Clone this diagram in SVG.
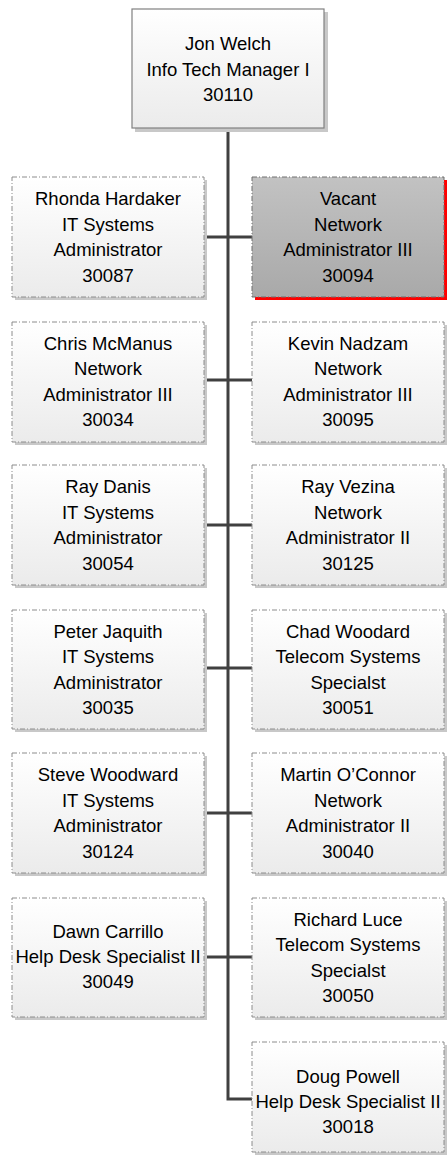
<svg xmlns="http://www.w3.org/2000/svg" width="447" height="1162" viewBox="0 0 447 1162">
<defs>
<linearGradient id="g" x1="0" y1="0" x2="0" y2="1">
<stop offset="0" stop-color="#ffffff"/>
<stop offset="1" stop-color="#ebebeb"/>
</linearGradient>
<linearGradient id="gv" x1="0" y1="0" x2="0" y2="1">
<stop offset="0" stop-color="#c2c2c2"/>
<stop offset="1" stop-color="#a9a9a9"/>
</linearGradient>
</defs>
<style>
.sh{fill:#c8c8c8}
.shr{fill:#ff0000}
.bx{fill:url(#g);stroke:#8c8c8c;stroke-width:1;stroke-dasharray:5 2 1 2}
.bxv{fill:url(#gv);stroke:#6e6e6e;stroke-width:1;stroke-dasharray:5 2 1 2}
.top{fill:url(#g);stroke:#808080;stroke-width:1.2}
text{font-family:"Liberation Sans",Arial,sans-serif;font-size:18.5px;fill:#000;text-anchor:middle}
.ln{stroke:#404040;stroke-width:3;fill:none}
</style>
<g id="connectors">
<path class="ln" d="M228,128 V1099 H252"/>
<path class="ln" d="M204,237 H252 M204,380 H252 M204,525 H252 M204,668 H252 M204,813 H252 M204,957 H252"/>
</g>
<g id="n30110">
<rect class="sh" x="135" y="12" width="193" height="120"/>
<rect class="top" x="132" y="9" width="192" height="119"/>
<text x="228" y="50">Jon Welch</text>
<text x="228" y="75.5">Info Tech Manager I</text>
<text x="228" y="101">30110</text>
</g>
<g id="n30087">
<rect class="sh" x="15" y="180" width="192" height="120"/>
<rect class="bx" x="12" y="177" width="192" height="120"/>
<text x="108" y="205">Rhonda Hardaker</text>
<text x="108" y="230.5">IT Systems</text>
<text x="108" y="256">Administrator</text>
<text x="108" y="281.5">30087</text>
</g>
<g id="n30094">
<rect class="shr" x="255" y="180" width="192" height="120"/>
<rect class="bxv" x="252" y="177" width="192" height="120"/>
<text x="348" y="205">Vacant</text>
<text x="348" y="230.5">Network</text>
<text x="348" y="256">Administrator III</text>
<text x="348" y="281.5">30094</text>
</g>
<g id="n30034">
<rect class="sh" x="15" y="325" width="192" height="120"/>
<rect class="bx" x="12" y="322" width="192" height="120"/>
<text x="108" y="349.5">Chris McManus</text>
<text x="108" y="375">Network</text>
<text x="108" y="400.5">Administrator III</text>
<text x="108" y="426">30034</text>
</g>
<g id="n30095">
<rect class="sh" x="255" y="325" width="192" height="120"/>
<rect class="bx" x="252" y="322" width="192" height="120"/>
<text x="348" y="349.5">Kevin Nadzam</text>
<text x="348" y="375">Network</text>
<text x="348" y="400.5">Administrator III</text>
<text x="348" y="426">30095</text>
</g>
<g id="n30054">
<rect class="sh" x="15" y="468" width="192" height="120"/>
<rect class="bx" x="12" y="465" width="192" height="120"/>
<text x="108" y="493">Ray Danis</text>
<text x="108" y="518.5">IT Systems</text>
<text x="108" y="544">Administrator</text>
<text x="108" y="569.5">30054</text>
</g>
<g id="n30125">
<rect class="sh" x="255" y="468" width="192" height="120"/>
<rect class="bx" x="252" y="465" width="192" height="120"/>
<text x="348" y="493">Ray Vezina</text>
<text x="348" y="518.5">Network</text>
<text x="348" y="544">Administrator II</text>
<text x="348" y="569.5">30125</text>
</g>
<g id="n30035">
<rect class="sh" x="15" y="613" width="192" height="119"/>
<rect class="bx" x="12" y="610" width="192" height="119"/>
<text x="108" y="637.5">Peter Jaquith</text>
<text x="108" y="663">IT Systems</text>
<text x="108" y="688.5">Administrator</text>
<text x="108" y="714">30035</text>
</g>
<g id="n30051">
<rect class="sh" x="255" y="613" width="192" height="119"/>
<rect class="bx" x="252" y="610" width="192" height="119"/>
<text x="348" y="637.5">Chad Woodard</text>
<text x="348" y="663">Telecom Systems</text>
<text x="348" y="688.5">Specialst</text>
<text x="348" y="714">30051</text>
</g>
<g id="n30124">
<rect class="sh" x="15" y="756" width="192" height="120"/>
<rect class="bx" x="12" y="753" width="192" height="120"/>
<text x="108" y="781">Steve Woodward</text>
<text x="108" y="806.5">IT Systems</text>
<text x="108" y="832">Administrator</text>
<text x="108" y="857.5">30124</text>
</g>
<g id="n30040">
<rect class="sh" x="255" y="756" width="192" height="120"/>
<rect class="bx" x="252" y="753" width="192" height="120"/>
<text x="348" y="781">Martin O’Connor</text>
<text x="348" y="806.5">Network</text>
<text x="348" y="832">Administrator II</text>
<text x="348" y="857.5">30040</text>
</g>
<g id="n30049">
<rect class="sh" x="15" y="901" width="192" height="119"/>
<rect class="bx" x="12" y="898" width="192" height="119"/>
<text x="108" y="938">Dawn Carrillo</text>
<text x="108" y="963">Help Desk Specialist II</text>
<text x="108" y="988">30049</text>
</g>
<g id="n30050">
<rect class="sh" x="255" y="901" width="192" height="119"/>
<rect class="bx" x="252" y="898" width="192" height="119"/>
<text x="348" y="925.5">Richard Luce</text>
<text x="348" y="951">Telecom Systems</text>
<text x="348" y="976.5">Specialst</text>
<text x="348" y="1002">30050</text>
</g>
<g id="n30018">
<rect class="sh" x="255" y="1045" width="192" height="110"/>
<rect class="bx" x="252" y="1042" width="192" height="110"/>
<text x="348" y="1083">Doug Powell</text>
<text x="348" y="1108">Help Desk Specialist II</text>
<text x="348" y="1133">30018</text>
</g>
</svg>
